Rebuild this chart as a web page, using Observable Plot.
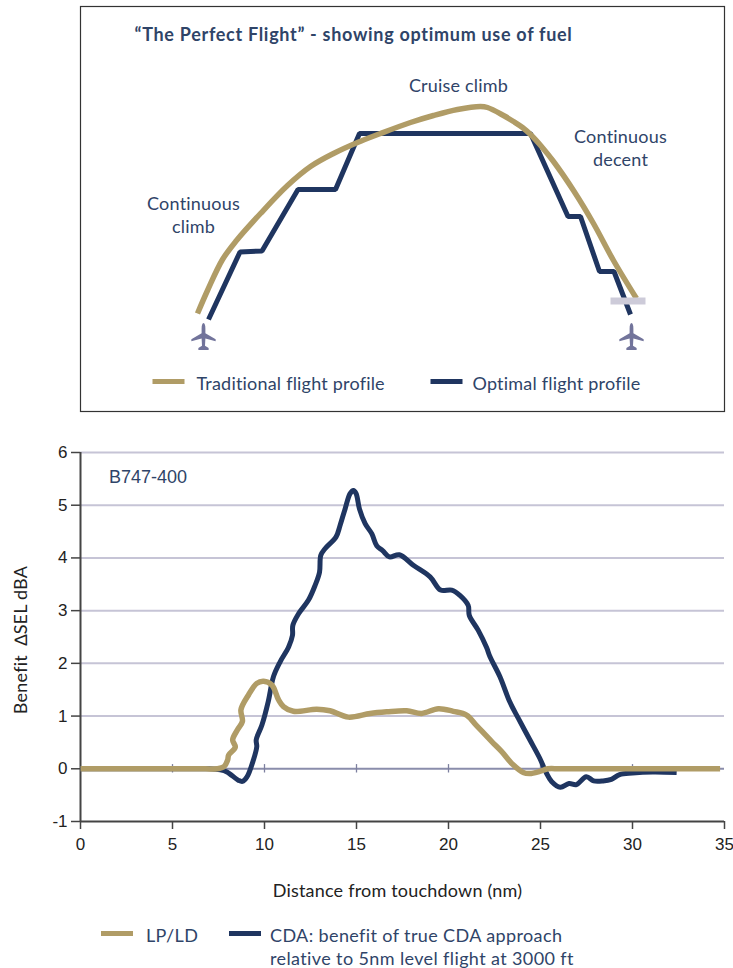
<!DOCTYPE html>
<html>
<head>
<meta charset="utf-8">
<script src="https://cdn.jsdelivr.net/npm/d3@7"></script>
<script src="https://cdn.jsdelivr.net/npm/@observablehq/plot@0.6"></script>
<style>
  html, body { margin: 0; padding: 0; background: #fff; }
  #page { position: relative; width: 733px; height: 968px; overflow: hidden; }
  #page svg { display: block; background: transparent; }
  .legend { position: absolute; font: 18px/22.5px Lato, sans-serif; letter-spacing: .38px; color: #2f4468; white-space: nowrap; }
  .swatch { position: absolute; height: 5px; width: 32px; }
  .spaced text { letter-spacing: .2px; }
  .title-text text { letter-spacing: .7px; }
</style>
</head>
<body>
<div id="page"></div>
<script>
const TAN = "#b09c66", NAVY = "#1f3560", TEXT = "#2f4468", PLANE = "#72749b";

// Schematic "Perfect Flight" profiles: [along-track, height]
const traditionalProfile = [[197,313],[207,290],[222,259],[236,240],[260,213],[287,185],[310,166],[333,153],[357,142],[380,133],[410,122],[433,115],[457,109],[480,106],[487,107],[503,115],[513,121],[522,127],[530,134],[541,146],[553,161],[573,190],[593,223],[613,260],[636,298]];
const optimalProfile = [[208,319],[239.5,251.5],[261.5,250.5],[297.5,189],[335,189],[359,133],[530,133],[567.5,216],[580,216],[599,271],[613.5,271],[630,314]];
const runwayBar = [[610,300.5],[645,300.5]];
const planes = [[203,336],[631,336]];
const profileLegendTan = [[152,381],[184,381]];
const profileLegendNavy = [[430,381],[462,381]];
const profileLabels = [
  ["Cruise climb",458,86],
  ["Continuous",620,137],
  ["decent",620,160],
  ["Continuous",193,204],
  ["climb",193,227]
];
const profileLegendLabels = [
  ["Traditional flight profile",196,384],
  ["Optimal flight profile",472,384]
];
const profileTitle = ["\u201cThe Perfect Flight\u201d - showing optimum use of fuel",134,36];

// Noise benefit chart: [distance nm, benefit dBA]
const lpld = [[0,0],[2,0],[4,0],[6,0],[6.8,0],[7.4,0],[7.8,.04],[8,.17],[8.05,.26],[8.41,.41],[8.27,.55],[8.53,.74],[8.8,.9],[8.72,1.12],[9.13,1.4],[9.58,1.62],[9.95,1.66],[10.4,1.59],[10.76,1.31],[11.03,1.18],[11.57,1.09],[12.84,1.13],[13.56,1.1],[14.56,.98],[15.74,1.05],[16.64,1.08],[17.73,1.1],[18.54,1.05],[19.45,1.14],[20.26,1.09],[20.98,1.02],[21.5,.83],[22.34,.52],[22.88,.33],[23.5,.08],[24.06,-.07],[24.42,-.09],[24.96,-.05],[25.4,0],[26,0],[27,0],[29,0],[32,0],[34.76,0]];
const cda = [[0,0],[2,0],[4,0],[6,0],[7,0],[7.6,-.02],[7.96,-.06],[8.59,-.22],[8.8,-.24],[9.04,-.16],[9.4,.17],[9.58,.42],[9.55,.55],[9.86,.83],[10.2,1.27],[10.49,1.75],[10.85,2.03],[11.31,2.31],[11.52,2.53],[11.54,2.72],[11.85,2.94],[12.39,3.2],[12.75,3.48],[12.99,3.73],[13.06,4.05],[13.3,4.18],[13.89,4.4],[14.11,4.62],[14.38,4.93],[14.65,5.22],[14.83,5.28],[14.98,5.22],[15.16,4.93],[15.47,4.65],[15.83,4.46],[16.1,4.23],[16.42,4.14],[16.79,4.02],[17.33,4.06],[18.09,3.86],[19,3.64],[19.57,3.39],[20.17,3.39],[20.62,3.29],[21.07,3.1],[21.13,2.91],[21.61,2.63],[22.07,2.3],[22.25,2.13],[22.79,1.75],[23.33,1.27],[23.79,.96],[24.42,.55],[24.96,.2],[25.32,-.08],[25.6,-.24],[26.08,-.35],[26.55,-.28],[26.95,-.3],[27.49,-.15],[27.89,-.23],[28.4,-.23],[28.85,-.2],[29.3,-.11],[30,-.08],[31.1,-.06],[32.4,-.07]];
const xTicks = [0,5,10,15,20,25,30,35];
const yTicks = [-1,0,1,2,3,4,5,6];
const gridValues = [1,2,3,4,5,6];
const zeroLineTicks = [5,10,15,20,25,30];
const chartNote = ["B747-400",1.55,5.53];
const xLabel = "Distance from touchdown (nm)";
const yLabel = "Benefit  \u2206SEL dBA";

const planeSymbol = {
  draw(c, size) {
    const k = Math.sqrt(size / Math.PI);
    const p = (x, y) => [x * k, y * k];
    c.moveTo(...p(0,-1));
    c.quadraticCurveTo(...p(.14,-.95), ...p(.14,-.6));
    c.lineTo(...p(.14,-.25));
    c.lineTo(...p(.9,.2));
    c.lineTo(...p(.9,.36));
    c.lineTo(...p(.14,.14));
    c.lineTo(...p(.11,.68));
    c.lineTo(...p(.38,.86));
    c.lineTo(...p(.38,1));
    c.lineTo(...p(-.38,1));
    c.lineTo(...p(-.38,.86));
    c.lineTo(...p(-.11,.68));
    c.lineTo(...p(-.14,.14));
    c.lineTo(...p(-.9,.36));
    c.lineTo(...p(-.9,.2));
    c.lineTo(...p(-.14,-.25));
    c.lineTo(...p(-.14,-.6));
    c.quadraticCurveTo(...p(-.14,-.95), ...p(0,-1));
    c.closePath();
  }
};

const fx = d => d[0], fy = d => d[1];

const profileChart = Plot.plot({
  width: 733, height: 425,
  marginLeft: 80, marginRight: 9, marginTop: 6, marginBottom: 14,
  x: {domain: [80,724], axis: null},
  y: {domain: [411,6], axis: null},
  marks: [
    Plot.frame({stroke: "#333", strokeWidth: 1.2}),
    Plot.line(optimalProfile, {x: fx, y: fy, stroke: NAVY, strokeWidth: 5, strokeLinejoin: "miter", strokeLinecap: "butt"}),
    Plot.line(traditionalProfile, {x: fx, y: fy, curve: "catmull-rom", stroke: TAN, strokeWidth: 5.5, strokeLinecap: "butt"}),
    Plot.line(runwayBar, {x: fx, y: fy, stroke: "#cdcbd9", strokeWidth: 7, strokeLinecap: "butt"}),
    Plot.dot(planes, {x: fx, y: fy, r: 13.5, symbol: planeSymbol, fill: PLANE, stroke: "none"}),
    Plot.line(profileLegendTan, {x: fx, y: fy, stroke: TAN, strokeWidth: 5, strokeLinecap: "butt"}),
    Plot.line(profileLegendNavy, {x: fx, y: fy, stroke: NAVY, strokeWidth: 5, strokeLinecap: "butt"}),
    Plot.text(profileLabels, {x: d => d[1], y: d => d[2], text: d => d[0], textAnchor: "middle", lineAnchor: "bottom", fill: TEXT, fontSize: 18, fontFamily: "Lato, sans-serif", dy: 5, className: "spaced"}),
    Plot.text(profileLegendLabels, {x: d => d[1], y: d => d[2], text: d => d[0], textAnchor: "start", lineAnchor: "bottom", fill: TEXT, fontSize: 18, fontFamily: "Lato, sans-serif", dy: 5, className: "spaced"}),
    Plot.text([profileTitle], {x: d => d[1], y: d => d[2], text: d => d[0], textAnchor: "start", lineAnchor: "bottom", fill: TEXT, fontSize: 18, fontWeight: 700, fontFamily: "Lato, sans-serif", dy: 4, className: "title-text"})
  ]
});

const chart = Plot.plot({
  width: 733, height: 480,
  marginLeft: 80, marginRight: 9, marginTop: 27, marginBottom: 84,
  style: {fontFamily: "'Liberation Sans', Arial, sans-serif"},
  x: {domain: [0,35]},
  y: {domain: [-1,6]},
  marks: [
    Plot.ruleY(gridValues, {stroke: "#c6c4d6", strokeWidth: 2}),
    Plot.ruleY([0], {stroke: "#8a8dab", strokeWidth: 2}),
    Plot.ruleX(zeroLineTicks, {y1: -0.08, y2: 0.08, stroke: "#7d80a0", strokeWidth: 1.3}),
    Plot.ruleX([0], {stroke: "#444", strokeWidth: 2}),
    Plot.ruleY([-1], {stroke: "#444", strokeWidth: 2}),
    Plot.axisX({ticks: xTicks, tickSize: 8, tickPadding: 8, stroke: "#444", strokeWidth: 1.5, fill: "#222", fontSize: 17, label: null, tickFormat: d => d}),
    Plot.axisY({ticks: yTicks, tickSize: 9, tickPadding: 4, stroke: "#444", strokeWidth: 1.5, fill: "#222", fontSize: 17, label: null, tickFormat: d => d}),
    Plot.text([xLabel], {frameAnchor: "bottom", dx: -5, dy: 75, fill: "#222", fontSize: 18, fontFamily: "Lato, sans-serif", className: "spaced"}),
    Plot.text([yLabel], {frameAnchor: "left", textAnchor: "middle", rotate: -90, dx: -59, dy: 3, fill: "#222", fontSize: 18, fontFamily: "Lato, sans-serif", className: "spaced"}),
    Plot.line(cda, {x: fx, y: fy, curve: "catmull-rom", stroke: NAVY, strokeWidth: 5, strokeLinecap: "butt"}),
    Plot.line(lpld, {x: fx, y: fy, curve: "catmull-rom", stroke: TAN, strokeWidth: 5.5, strokeLinecap: "butt"}),
    Plot.text([chartNote], {x: d => d[1], y: d => d[2], text: d => d[0], textAnchor: "start", fill: TEXT, fontSize: 18, fontFamily: "'Liberation Sans', Arial, sans-serif"})
  ]
});

const page = document.getElementById("page");
page.append(profileChart, chart);

const legendEntries = [
  {label: "LP/LD", color: TAN, swatchLeft: 101, textLeft: 146},
  {label: "CDA: benefit of true CDA approach<br>relative to 5nm level flight at 3000 ft", color: NAVY, swatchLeft: 229, textLeft: 270}
];
for (const e of legendEntries) {
  const s = document.createElement("div");
  s.className = "swatch";
  s.style.cssText = `left:${e.swatchLeft}px;top:931px;background:${e.color}`;
  const t = document.createElement("div");
  t.className = "legend";
  t.style.cssText = `left:${e.textLeft}px;top:924px`;
  t.innerHTML = e.label;
  page.append(s, t);
}
</script>
</body>
</html>
